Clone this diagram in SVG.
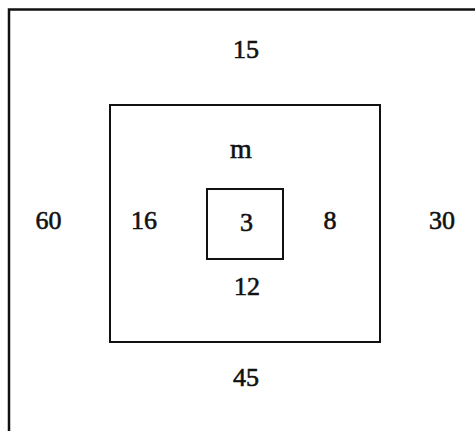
<svg xmlns="http://www.w3.org/2000/svg" width="475" height="431" viewBox="0 0 475 431">
<style>
.frame{fill:none;stroke:#111;stroke-width:2.5}
.box{fill:none;stroke:#111;stroke-width:2}
.t{font-family:"Liberation Serif","Times New Roman",serif;font-size:26px;fill:#111;stroke:#111;stroke-width:0.6;text-anchor:middle}
</style>
<rect width="475" height="431" fill="#fff"/>
<g id="outer">
<path class="frame" d="M9,431 V9.5 H475"/>
<text class="t" x="246" y="58">15</text>
<text class="t" x="48.5" y="229">60</text>
<text class="t" x="442" y="229">30</text>
<text class="t" x="246" y="386">45</text>
</g>
<g id="middle">
<rect class="box" x="110" y="105" width="270" height="237"/>
<text class="t" x="241" y="158" style="font-size:28px">m</text>
<text class="t" x="144" y="229">16</text>
<text class="t" x="330" y="229">8</text>
<text class="t" x="247" y="295">12</text>
</g>
<g id="inner">
<rect class="box" x="207" y="189" width="76" height="70"/>
<text class="t" x="246.5" y="231">3</text>
</g>
<g id="connectors"/>
</svg>
